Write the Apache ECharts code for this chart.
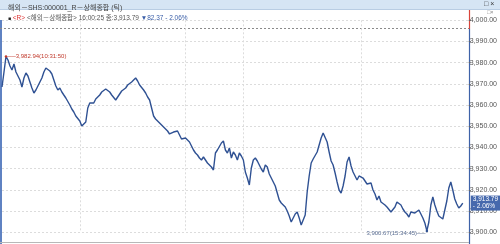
<!DOCTYPE html>
<html><head><meta charset="utf-8">
<script src="https://cdn.jsdelivr.net/npm/echarts@6/dist/echarts.min.js"></script>
<style>html,body{margin:0;padding:0;background:#fff}#c{width:500px;height:244px}</style>
</head><body><div id="c"></div>
<script>
// ---- data ----
const chartTitle = '해외－SHS:000001_R－상해종합 (틱)';
const seriesName = '<해외－상해종합>';
const lastTime = '16:00:25';
const lastPrice = 3913.79;
const changeAbs = 82.37;
const changePct = -2.06;
const maxTime = '10:31:50';
const minTime = '15:34:45';
const yTicks = [3900, 3910, 3920, 3930, 3940, 3950, 3960, 3970, 3980, 3990, 4000];
const tickCount = 235;
const gridTickIdx = [39, 92, 121, 180];
const prices = [
3968.54,3975.61,3982.94,3981.27,3978.44,3976.56,3979.39,3975.61,3976.08,3971.84,
3968.54,3972.78,3975.14,3973.73,3970.90,3968.07,3965.71,3967.12,3969.01,3969.95,
3972.78,3975.61,3977.50,3978.44,3976.08,3974.67,3971.84,3969.01,3967.12,3968.07,
3966.18,3964.76,3963.35,3962.41,3960.05,3958.16,3956.75,3954.86,3953.92,3952.50,
3950.14,3949.20,3952.03,3958.63,3960.99,3961.93,3960.99,3962.88,3963.82,3964.76,
3966.18,3966.65,3967.59,3967.12,3966.18,3964.76,3963.82,3962.41,3963.82,3965.24,
3966.65,3967.59,3968.07,3969.48,3970.42,3970.90,3971.84,3972.78,3971.37,3969.48,
3968.54,3967.12,3965.71,3963.82,3962.41,3958.63,3954.86,3953.44,3952.50,3951.56,
3952.03,3949.67,3948.73,3947.78,3946.37,3945.90,3947.31,3948.25,3947.78,3946.84,
3944.01,3943.07,3944.48,3944.95,3942.59,3940.71,3938.82,3937.41,3936.46,3935.05,
3934.10,3935.52,3934.58,3932.69,3931.75,3930.80,3929.39,3937.41,3938.82,3939.76,
3942.12,3943.07,3938.82,3937.41,3939.76,3935.05,3937.88,3936.46,3934.10,3937.41,
3935.99,3934.10,3928.44,3925.61,3922.31,3930.33,3934.10,3935.05,3933.63,3932.69,
3929.86,3928.44,3931.75,3930.80,3927.50,3925.61,3924.67,3921.84,3918.54,3915.24,
3913.82,3914.29,3911.93,3910.05,3907.69,3904.86,3905.80,3908.63,3909.58,3906.75,
3903.44,3902.50,3908.16,3919.01,3926.56,3932.69,3934.58,3935.05,3937.88,3941.18,
3944.48,3946.84,3945.90,3942.59,3937.88,3933.63,3931.75,3927.97,3923.73,3919.95,
3918.54,3921.84,3926.56,3933.16,3935.52,3931.27,3928.44,3926.56,3924.67,3926.56,
3927.03,3925.61,3924.67,3922.78,3922.31,3923.25,3919.95,3918.07,3915.24,3917.12,
3914.29,3913.35,3912.88,3911.93,3910.99,3909.58,3909.10,3911.93,3914.29,3913.82,
3912.88,3910.99,3909.58,3908.63,3907.22,3909.58,3910.52,3909.10,3909.58,3910.52,
3908.63,3906.75,3904.39,3900.67,3904.86,3912.88,3916.65,3912.88,3910.05,3907.69,
3906.75,3906.27,3910.52,3914.76,3920.90,3923.73,3919.95,3915.71,3913.35,3911.46,
3912.41,3913.79
];
// ---- chart ----
const categories = Array.from({length: tickCount}, (_, i) => i);
const fmt = v => v.toLocaleString('en-US', {minimumFractionDigits: 2, maximumFractionDigits: 2});
const FF = "'Liberation Sans','Noto Sans CJK KR',sans-serif";
const chart = echarts.init(document.getElementById('c'), null, {renderer: 'canvas'});
chart.setOption({
  animation: false,
  backgroundColor: '#fff',
  title: [{
    text: chartTitle, left: 3, top: 0,
    textStyle: {fontSize: 7, fontWeight: 'normal', color: '#444', fontFamily: FF}
  }, {
    text: '{k|■} {r|<R>} {g|' + seriesName + ' ' + lastTime + ' 종:' + fmt(lastPrice) + '} {b|▼' + fmt(changeAbs) + ' - ' + Math.abs(changePct).toFixed(2) + '%}',
    left: 3, top: 10,
    textStyle: {fontSize: 6.5, fontWeight: 'normal', fontFamily: FF,
      rich: {k: {color: '#222', fontSize: 5, fontFamily: FF}, r: {color: '#d33', fontSize: 6.5, fontFamily: FF}, g: {color: '#555', fontSize: 6.5, fontFamily: FF}, b: {color: '#3a5ea8', fontSize: 6.5, fontFamily: FF}}}
  }],
  graphic: [
    {type: 'rect', shape: {x: 0, y: 0, width: 500, height: 9}, style: {fill: '#d6e5f4'}, z: -1},
    {type: 'line', shape: {x1: 0, y1: 9.5, x2: 500, y2: 9.5}, style: {stroke: '#b9cde3', lineWidth: 1}},
    {type: 'text', style: {x: 484, y: 1, text: '□ ×', fontSize: 7, fill: '#333', fontFamily: FF}},
    {type: 'text', style: {x: 487, y: 10, text: '□×', fontSize: 5.5, fill: '#888', fontFamily: FF}},
    {type: 'rect', shape: {x: 0, y: 20, width: 2, height: 224}, style: {fill: '#5f82c2'}},
    {type: 'line', shape: {x1: 0, y1: 28.5, x2: 469, y2: 28.5}, style: {stroke: '#8a8a8a', lineWidth: 1, lineDash: [2, 2]}},
    {type: 'line', shape: {x1: 469.5, y1: 10, x2: 469.5, y2: 29}, style: {stroke: '#d9453b', lineWidth: 1.2}},
    {type: 'line', shape: {x1: 469.5, y1: 29, x2: 469.5, y2: 244}, style: {stroke: '#3e62a8', lineWidth: 1.2}},
    {type: 'line', shape: {x1: 0, y1: 242.5, x2: 469, y2: 242.5}, style: {stroke: '#b8b8b8', lineWidth: 1}}
  ],
  grid: {left: 2, right: 30, top: 20.3, bottom: 11.7},
  xAxis: {
    type: 'category', data: categories, boundaryGap: false,
    axisLine: {show: false}, axisTick: {show: false}, axisLabel: {show: false},
    splitLine: {show: true, interval: (i) => gridTickIdx.includes(i), lineStyle: {color: '#dcdcdc', type: [2, 2], width: 1}}
  },
  yAxis: {
    type: 'value', position: 'right',
    min: yTicks[0], max: yTicks[yTicks.length - 1], interval: yTicks[1] - yTicks[0],
    axisLine: {show: false},
    axisTick: {show: true, length: 2, lineStyle: {color: '#666'}},
    axisLabel: {margin: 1, fontSize: 7, color: '#555', fontFamily: FF, formatter: v => fmt(v)},
    splitLine: {show: true, lineStyle: {color: '#dcdcdc', type: [2, 2], width: 1}}
  },
  series: [{
    type: 'line', data: prices, showSymbol: false, smooth: false,
    lineStyle: {color: '#2f5193', width: 1.4}, itemStyle: {color: '#2f5193'},
    markPoint: {
      symbol: 'circle', symbolSize: 2.5,
      data: [
        {type: 'max', itemStyle: {color: '#c0392b'},
          label: {show: true, position: 'right', distance: 0, color: '#c0392b', fontSize: 6, fontFamily: FF,
            formatter: p => '──' + fmt(p.value) + '(' + maxTime + ')'}},
        {type: 'min', itemStyle: {color: '#2f5193'},
          label: {show: true, position: 'left', distance: 0, offset: [0, 2], color: '#5a6d92', fontSize: 6, fontFamily: FF,
            formatter: p => fmt(p.value) + '(' + minTime + ')──'}}
      ]
    },
    markLine: {
      silent: true, symbol: ['none', 'none'],
      lineStyle: {color: 'rgba(0,0,0,0)', width: 1, type: 'solid'},
      data: [{yAxis: lastPrice,
        label: {show: true, position: 'end', distance: 2,
          formatter: fmt(lastPrice) + '\n- ' + Math.abs(changePct).toFixed(2) + '%',
          backgroundColor: '#4669ad', color: '#fff', fontSize: 6.5, lineHeight: 7, padding: [1, 2, 0, 2], fontFamily: FF}}]
    }
  }]
});
</script></body></html>
